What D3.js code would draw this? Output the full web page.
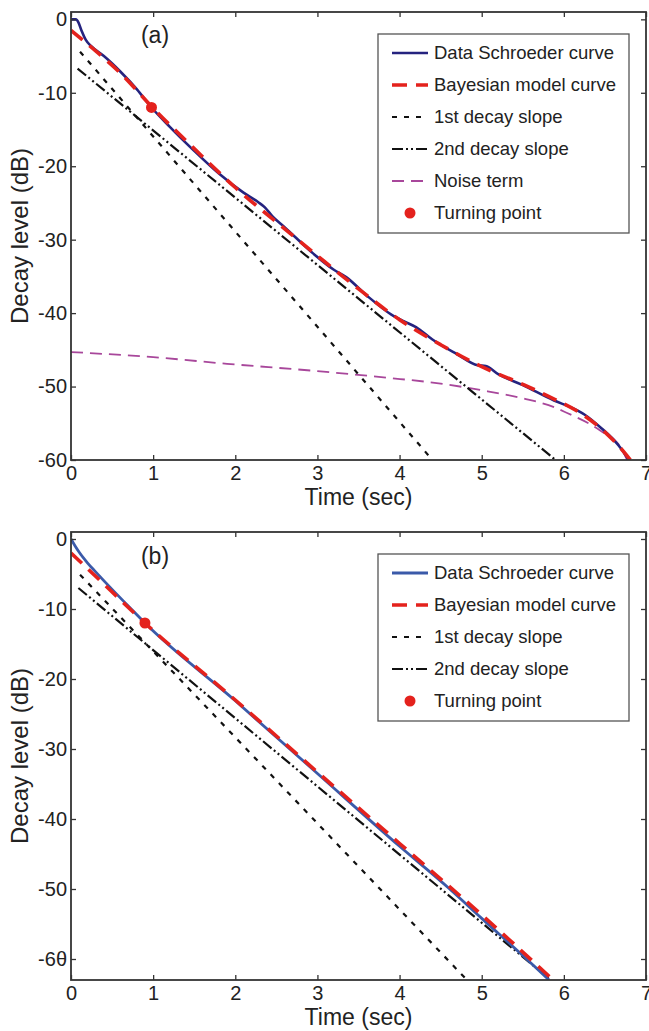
<!DOCTYPE html>
<html>
<head>
<meta charset="utf-8">
<script src="https://cdn.jsdelivr.net/npm/d3@7"></script>
<style>
  body { margin: 0; background: #fff; }
  text { font-family: "Liberation Sans", Arial, sans-serif; fill: #222; }
</style>
</head>
<body>
<script>
// values: [time (sec), decay level (dB)]
const timeTicks = [0, 1, 2, 3, 4, 5, 6, 7];
const levelTicks = [0, -10, -20, -30, -40, -50, -60];
const levelLabelsA = ['0', '-10', '-20', '-30', '-40', '-50', '-60'];
const levelLabelsB = ['0', '-10', '-20', '-30', '-40', '-50', '-6θ'];

// panel (a)
const schroederA = [
  [0, 0], [0.06, 0], [0.09, -0.4], [0.13, -1.6], [0.18, -2.8], [0.25, -3.7],
  [0.4, -5.0], [0.6, -7.1], [0.8, -9.5], [0.98, -12.0], [1.2, -14.6],
  [1.49, -17.8], [1.8, -21.0], [2.1, -23.6], [2.28, -24.9], [2.36, -25.6],
  [2.45, -26.8], [2.6, -28.3], [2.95, -31.9], [3.2, -34.1], [3.35, -35.1],
  [3.6, -37.6], [3.9, -40.2], [4.05, -41.1], [4.2, -41.9], [4.4, -43.6],
  [4.7, -45.6], [4.95, -47.1], [5.05, -47.2], [5.2, -48.3], [5.5, -49.8],
  [5.88, -51.9], [6.1, -52.9], [6.25, -53.8], [6.45, -55.6], [6.61, -57.3],
  [6.7, -58.5], [6.79, -60]
];
const modelA = [
  [0, -1.5], [0.15, -2.9], [0.3, -4.3], [0.6, -7.3], [1.0, -12.1],
  [1.5, -17.6], [2, -22.9], [2.5, -27.6], [3, -32.2], [3.5, -36.7],
  [4, -40.9], [4.5, -44.3], [5, -47.3], [5.5, -49.7], [5.9, -51.8],
  [6.2, -53.6], [6.5, -56.2], [6.7, -58.5], [6.81, -60]
];
const slope1A = [[0.11, -4.4], [4.40, -60]];
const slope2A = [[0.08, -6.7], [5.9, -60]];
const noiseA = [
  [0, -45.3], [1, -46.0], [1.9, -46.9], [3, -47.9], [3.85, -48.8],
  [4.5, -49.6], [5, -50.5], [5.5, -51.6], [5.88, -52.8], [6.04, -53.6],
  [6.3, -55.0], [6.5, -56.4], [6.61, -57.2], [6.7, -58.4], [6.77, -60]
];
const turningA = [[0.98, -12]];

// panel (b)
const schroederB = [
  [0, 0], [0.05, -1.0], [0.1, -1.9], [0.2, -3.4], [0.3, -4.7], [0.5, -7.2],
  [0.7, -9.6], [0.9, -12.0], [2, -23.1], [3, -33.5], [4, -43.9],
  [4.6, -49.9], [5, -54.2], [5.5, -59.5], [5.82, -63]
];
const modelB = [
  [0, -2.0], [0.45, -7.0], [0.9, -12.0], [2, -23.0], [3, -33.3],
  [4, -43.5], [5, -53.7], [5.87, -63]
];
const slope1B = [[0.11, -5.1], [4.82, -63]];
const slope2B = [[0.09, -7.0], [5.84, -63]];
const turningB = [[0.9, -12]];

const styles = {
  schroederA: { stroke: '#25237f', width: 2.6, dash: null },
  schroederB: { stroke: '#3b5aa9', width: 2.8, dash: null },
  model: { stroke: '#e4221d', width: 3.6, dash: '15,9' },
  slope1: { stroke: '#111', width: 2.2, dash: '5,7' },
  slope2: { stroke: '#111', width: 2.2, dash: '11,3,2,3,2,3' },
  noise: { stroke: '#a8479b', width: 1.8, dash: '12,7' },
  turning: { fill: '#e4221d' }
};

const svg = d3.select('body')
  .append('svg')
  .attr('width', 649)
  .attr('height', 1031);

const x = d3.scaleLinear().domain([0, 7]).range([71, 646]);

drawPanel({
  id: 'a', top: 12, bottom: 460, yDomain: [-60, 1], levelLabels: levelLabelsA,
  tag: '(a)', tagY: 43, legendTop: 34,
  series: [
    [noiseA, styles.noise],
    [slope1A, styles.slope1],
    [slope2A, styles.slope2],
    [schroederA, styles.schroederA],
    [modelA, styles.model]
  ],
  legend: [
    [styles.schroederA, 'Data Schroeder curve'],
    [styles.model, 'Bayesian model curve'],
    [styles.slope1, '1st decay slope'],
    [styles.slope2, '2nd decay slope'],
    [styles.noise, 'Noise term'],
    [styles.turning, 'Turning point']
  ],
  turning: turningA
});

drawPanel({
  id: 'b', top: 532, bottom: 980, yDomain: [-63, 1], levelLabels: levelLabelsB,
  tag: '(b)', tagY: 564, legendTop: 554,
  series: [
    [slope1B, styles.slope1],
    [slope2B, styles.slope2],
    [schroederB, styles.schroederB],
    [modelB, styles.model]
  ],
  legend: [
    [styles.schroederB, 'Data Schroeder curve'],
    [styles.model, 'Bayesian model curve'],
    [styles.slope1, '1st decay slope'],
    [styles.slope2, '2nd decay slope'],
    [styles.turning, 'Turning point']
  ],
  turning: turningB
});

function drawPanel (p) {
  const y = d3.scaleLinear().domain(p.yDomain).range([p.bottom, p.top]);
  const g = svg.append('g');

  g.append('clipPath')
    .attr('id', 'clip-' + p.id)
    .append('rect')
      .attr('x', x(0))
      .attr('y', p.top)
      .attr('width', x(7) - x(0))
      .attr('height', p.bottom - p.top);

  const line = d3.line()
    .x(d => x(d[0]))
    .y(d => y(d[1]))
    .curve(d3.curveMonotoneX);

  const plot = g.append('g').attr('clip-path', `url(#clip-${p.id})`);
  p.series.forEach(s => {
    plot.append('path')
      .datum(s[0])
      .attr('d', line)
      .attr('fill', 'none')
      .attr('stroke', s[1].stroke)
      .attr('stroke-width', s[1].width)
      .attr('stroke-dasharray', s[1].dash)
      .attr('stroke-linejoin', 'round');
  });

  plot.selectAll('.turn')
    .data(p.turning)
    .enter()
      .append('circle')
      .attr('cx', d => x(d[0]))
      .attr('cy', d => y(d[1]))
      .attr('r', 5.5)
      .attr('fill', styles.turning.fill);

  // axes, ticks pointing inwards
  const axisColour = '#333';
  const bottomAxis = g.append('g')
    .attr('transform', `translate(0 ${p.bottom})`)
    .call(d3.axisBottom(x).tickValues(timeTicks).tickSizeInner(-5).tickSizeOuter(0).tickPadding(6)
      .tickFormat(d3.format('d')));
  const leftAxis = g.append('g')
    .attr('transform', `translate(${x(0)} 0)`)
    .call(d3.axisLeft(y).tickValues(levelTicks).tickSizeInner(-5).tickSizeOuter(0).tickPadding(4)
      .tickFormat((d, i) => p.levelLabels[i]));
  const topAxis = g.append('g')
    .attr('transform', `translate(0 ${p.top})`)
    .call(d3.axisTop(x).tickValues(timeTicks).tickSizeInner(-5).tickSizeOuter(0).tickFormat(''));
  const rightAxis = g.append('g')
    .attr('transform', `translate(${x(7)} 0)`)
    .call(d3.axisRight(y).tickValues(levelTicks).tickSizeInner(-5).tickSizeOuter(0).tickFormat(''));

  [bottomAxis, leftAxis, topAxis, rightAxis].forEach(a => {
    a.attr('font-size', 20).attr('font-family', '"Liberation Sans", Arial, sans-serif');
    a.select('.domain').remove();
    a.selectAll('.tick line').attr('stroke', axisColour).attr('stroke-width', 1.3);
    a.selectAll('.tick text').attr('fill', '#222');
  });

  g.append('rect')
    .attr('x', x(0))
    .attr('y', p.top)
    .attr('width', x(7) - x(0))
    .attr('height', p.bottom - p.top)
    .attr('fill', 'none')
    .attr('stroke', axisColour)
    .attr('stroke-width', 1.8);

  g.append('text')
    .attr('x', (x(0) + x(7)) / 2)
    .attr('y', p.bottom + 45)
    .attr('text-anchor', 'middle')
    .attr('font-size', 23)
    .text('Time (sec)');

  g.append('text')
    .attr('transform', `translate(28 ${(p.top + p.bottom) / 2}) rotate(-90)`)
    .attr('text-anchor', 'middle')
    .attr('font-size', 24)
    .text('Decay level (dB)');

  g.append('text')
    .attr('x', 155)
    .attr('y', p.tagY)
    .attr('text-anchor', 'middle')
    .attr('font-size', 23)
    .text(p.tag);

  // legend
  const rowGap = 32;
  const lg = g.append('g');
  lg.append('rect')
    .attr('x', 378)
    .attr('y', p.legendTop)
    .attr('width', 251)
    .attr('height', 19 + (p.legend.length - 1) * rowGap + 20)
    .attr('fill', '#fff')
    .attr('stroke', '#555')
    .attr('stroke-width', 1.3);

  p.legend.forEach((item, i) => {
    const cy = p.legendTop + 19 + i * rowGap;
    const st = item[0];
    if (st.fill) {
      lg.append('circle')
        .attr('cx', 410)
        .attr('cy', cy)
        .attr('r', 5.5)
        .attr('fill', st.fill);
    } else {
      lg.append('line')
        .attr('x1', 392)
        .attr('x2', 428)
        .attr('y1', cy)
        .attr('y2', cy)
        .attr('stroke', st.stroke)
        .attr('stroke-width', st.width)
        .attr('stroke-dasharray', st.dash);
    }
    lg.append('text')
      .attr('x', 434)
      .attr('y', cy + 6)
      .attr('font-size', 18.5)
      .text(item[1]);
  });
}
</script>
</body>
</html>
